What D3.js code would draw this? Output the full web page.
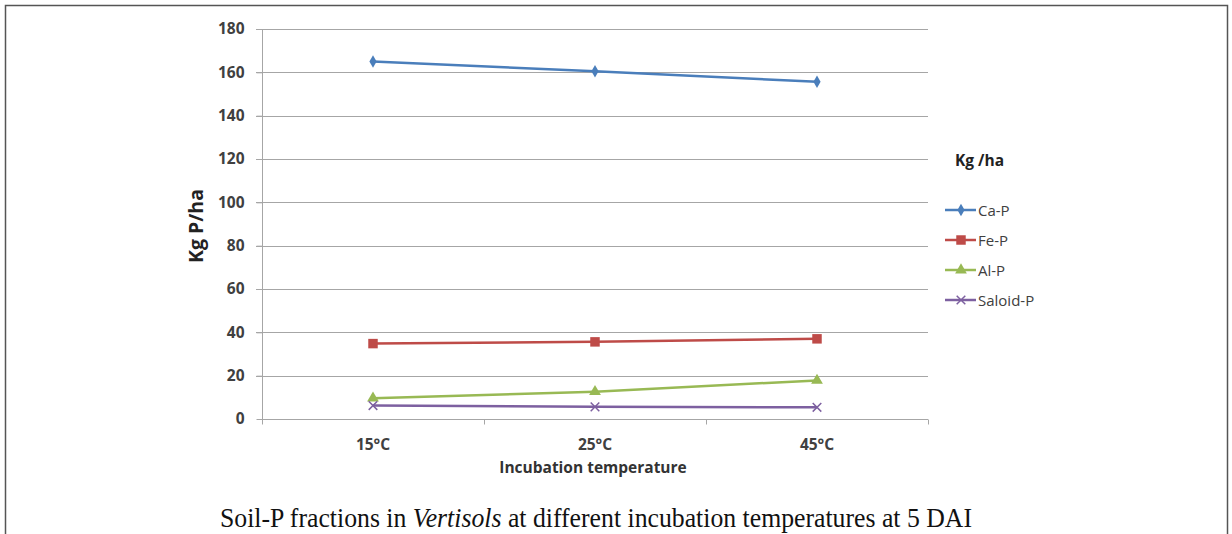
<!DOCTYPE html>
<html>
<head>
<meta charset="utf-8">
<script src="https://cdn.jsdelivr.net/npm/d3@7"></script>
<style>
  body { margin: 0; background: #fff; }
  svg { display: block; }
  .tick text { font-family: "Open Sans", "Noto Sans", sans-serif; font-weight: bold; fill: #404040; }
</style>
</head>
<body>
<svg id="chart" width="1232" height="534"></svg>
<script>
// data
var temps = ["15°C", "25°C", "45°C"];
var seriesNames = ["Ca-P", "Fe-P", "Al-P", "Saloid-P"];
var caP = [165.0, 160.5, 155.6];
var feP = [34.8, 35.6, 37.0];
var alP = [9.6, 12.6, 17.8];
var saloidP = [6.2, 5.6, 5.4];
var yTicks = [0, 20, 40, 60, 80, 100, 120, 140, 160, 180];

var colors = ["#4A7EBB", "#BE4B48", "#98B954", "#7D60A0"];
var symbols = [d3.symbolDiamond, d3.symbolSquare, d3.symbolTriangle, d3.symbolX];
var symSize = [45, 90, 60, 50];
var allSeries = [caP, feP, alP, saloidP];

var svg = d3.select("#chart");
var plotL = 262, plotR = 928, plotT = 29, plotB = 419;

// outer frame
svg.append("rect").attr("x", 5.5).attr("y", 5.5).attr("width", 1222).attr("height", 560)
  .attr("fill", "none").attr("stroke", "#555").attr("stroke-width", 1.5);

var x = d3.scaleBand().domain(temps).range([plotL, plotR]);
var y = d3.scaleLinear().domain([0, 180]).range([plotB, plotT]);

// gridlines
svg.append("g").selectAll("line").data(yTicks.filter(function(d) { return d > 0; })).enter().append("line")
  .attr("x1", plotL - 6).attr("x2", plotR)
  .attr("y1", function(d) { return Math.round(y(d)) + 0.5; })
  .attr("y2", function(d) { return Math.round(y(d)) + 0.5; })
  .attr("stroke", "#a6a6a6").attr("stroke-width", 1);

// y axis
var yAxis = svg.append("g").attr("transform", "translate(" + (plotL + 0.5) + ",0)")
  .call(d3.axisLeft(y).tickValues(yTicks).tickSize(6).tickPadding(12));
yAxis.selectAll("text").style("font-size", "15.5px");
yAxis.selectAll("line, path").attr("stroke", "#a6a6a6");
yAxis.select(".domain").attr("d", "M0," + (plotB + 5) + "V" + plotT);

// x axis
var xAxis = svg.append("g").attr("transform", "translate(0," + (plotB + 0.5) + ")")
  .call(d3.axisBottom(x).tickSize(0).tickPadding(19));
xAxis.selectAll("text").style("font-size", "15.5px");
xAxis.select(".domain").attr("stroke", "#a6a6a6").attr("d", "M" + plotL + ",0H" + plotR);
var bounds = [plotL, plotL + x.step(), plotL + 2 * x.step(), plotR];
xAxis.selectAll(".bt").data(bounds).enter().append("line")
  .attr("x1", function(d) { return Math.round(d) + 0.5; }).attr("x2", function(d) { return Math.round(d) + 0.5; })
  .attr("y1", 0).attr("y2", 5).attr("stroke", "#a6a6a6");

// axis titles
svg.append("text").attr("transform", "translate(203,226) rotate(-90)")
  .attr("text-anchor", "middle").attr("font-family", "Open Sans, sans-serif").attr("font-weight", "bold")
  .attr("font-size", "19.5px").attr("fill", "#222").text("Kg P/ha");
svg.append("text").attr("x", 593).attr("y", 473)
  .attr("text-anchor", "middle").attr("font-family", "Open Sans, sans-serif").attr("font-weight", "bold")
  .attr("font-size", "15.5px").attr("fill", "#333").text("Incubation temperature");

// lines and markers
var line = d3.line().x(function(d, i) { return x(temps[i]) + x.bandwidth() / 2; }).y(function(d) { return y(d); });
allSeries.forEach(function(vals, k) {
  svg.append("path").datum(vals).attr("d", line).attr("fill", "none")
    .attr("stroke", colors[k]).attr("stroke-width", 2.5);
  svg.append("g").selectAll("path").data(vals).enter().append("path")
    .attr("transform", function(d, i) { return "translate(" + (x(temps[i]) + x.bandwidth() / 2) + "," + y(d) + ")"; })
    .attr("d", d3.symbol().type(symbols[k]).size(symSize[k]))
    .attr("fill", colors[k]).attr("stroke", colors[k]).attr("stroke-width", k == 3 ? 1.5 : 0);
});

// legend
svg.append("text").attr("x", 955).attr("y", 166).attr("font-family", "Open Sans, sans-serif")
  .attr("font-weight", "bold").attr("font-size", "15.5px").attr("fill", "#222").text("Kg /ha");
var lg = svg.append("g").selectAll("g").data(seriesNames).enter().append("g")
  .attr("transform", function(d, i) { return "translate(945," + (210 + i * 30) + ")"; });
lg.append("line").attr("x1", 0).attr("x2", 31).attr("stroke", function(d, i) { return colors[i]; }).attr("stroke-width", 2.5);
lg.append("path").attr("transform", "translate(16,0)")
  .attr("d", function(d, i) { return d3.symbol().type(symbols[i]).size(symSize[i])(); })
  .attr("fill", function(d, i) { return colors[i]; }).attr("stroke", function(d, i) { return colors[i]; })
  .attr("stroke-width", function(d, i) { return i == 3 ? 1.5 : 0; });
lg.append("text").attr("x", 33).attr("y", 5.5).attr("font-family", "Open Sans, sans-serif")
  .attr("font-size", "15px").attr("fill", "#404040").text(function(d) { return d; });

// caption
var cap = svg.append("text").attr("x", 220).attr("y", 527)
  .attr("textLength", 752).attr("lengthAdjust", "spacingAndGlyphs")
  .attr("font-family", "Liberation Serif, Times New Roman, serif").attr("font-size", "27px").attr("fill", "#111");
cap.append("tspan").text("Soil-P fractions in ");
cap.append("tspan").attr("font-style", "italic").text("Vertisols");
cap.append("tspan").text(" at different incubation temperatures at 5 DAI");
</script>
</body>
</html>
